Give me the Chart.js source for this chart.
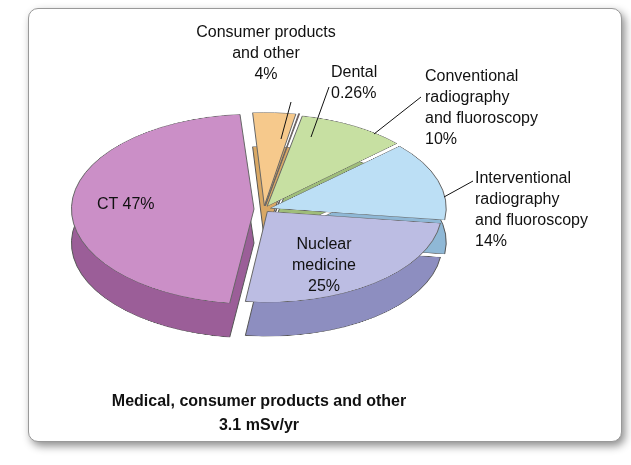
<!DOCTYPE html>
<html lang="en">
<head>
<meta charset="UTF-8">
<title>Medical, consumer products and other</title>
<script src="https://cdn.jsdelivr.net/npm/chart.js"></script>
<style>
  body{margin:0;background:#fff;font-family:"Liberation Sans",Arial,sans-serif;}
  #card{position:absolute;left:28px;top:8px;width:592px;height:432px;border:1px solid #999;border-radius:10px;
        box-shadow:3px 4px 8px rgba(0,0,0,0.45);background:#fff;overflow:hidden;}
  .pie{position:absolute;left:0px;top:78px;width:470px;height:470px;transform-origin:0 0;transform:scaleY(0.52);}
  .lab{position:absolute;font-size:16px;color:#111;line-height:21px;}
  svg{position:absolute;left:0;top:0;}
</style>
</head>
<body>
<div id="card">
  <div class="pie" style="top:112px"><canvas id="side"></canvas></div>
  <div class="pie"><canvas id="top"></canvas></div>
  <svg width="592" height="432"><g stroke="#111" stroke-width="1">
    <line x1="262" y1="93" x2="252" y2="130"/>
    <line x1="300" y1="78" x2="282" y2="128"/>
    <line x1="392" y1="88" x2="345" y2="125"/>
    <line x1="444" y1="172" x2="415" y2="188"/>
  </g></svg>
  <div class="lab" style="left:152px;top:12px;text-align:center;width:170px">Consumer products<br>and other<br>4%</div>
  <div class="lab" style="left:302px;top:52px">Dental<br>0.26%</div>
  <div class="lab" style="left:396px;top:56px">Conventional<br>radiography<br>and fluoroscopy<br>10%</div>
  <div class="lab" style="left:446px;top:158px">Interventional<br>radiography<br>and fluoroscopy<br>14%</div>
  <div class="lab" style="left:68px;top:184px">CT 47%</div>
  <div class="lab" style="left:240px;top:224px;text-align:center;width:110px">Nuclear<br>medicine<br>25%</div>
  <div class="lab" style="left:20px;top:380px;width:420px;text-align:center;font-weight:bold;line-height:24px">Medical, consumer products and other<br>3.1 mSv/yr</div>
</div>
<script>
var categories=["Consumer products and other","Dental","Conventional radiography and fluoroscopy","Interventional radiography and fluoroscopy","Nuclear medicine","CT"];
var values=[4,0.26,10,14,25,47];
var topColors=["#f6c98c","#c8262b","#c7e0a2","#bcdff5","#bcbde3","#cb8fc7"];
var sideColors=["#d9a865","#8e1519","#9fbd7a","#8fb8d6","#8d8ec0","#9b5e98"];
var offsets=[26,26,26,26,22,40];
function make(id,cols,border){
  new Chart(document.getElementById(id),{
    type:'pie',
    data:{labels:categories,datasets:[{data:values,backgroundColor:cols,borderColor:border,borderWidth:1,offset:offsets}]},
    options:{rotation:-4,responsive:false,animation:false,layout:{padding:40},
      plugins:{legend:{display:false},tooltip:{enabled:false}}}
  });
}
document.getElementById('side').width=470;document.getElementById('side').height=470;
document.getElementById('top').width=470;document.getElementById('top').height=470;
make('side',sideColors,'#555');
make('top',topColors,'#666');
</script>
</body>
</html>
